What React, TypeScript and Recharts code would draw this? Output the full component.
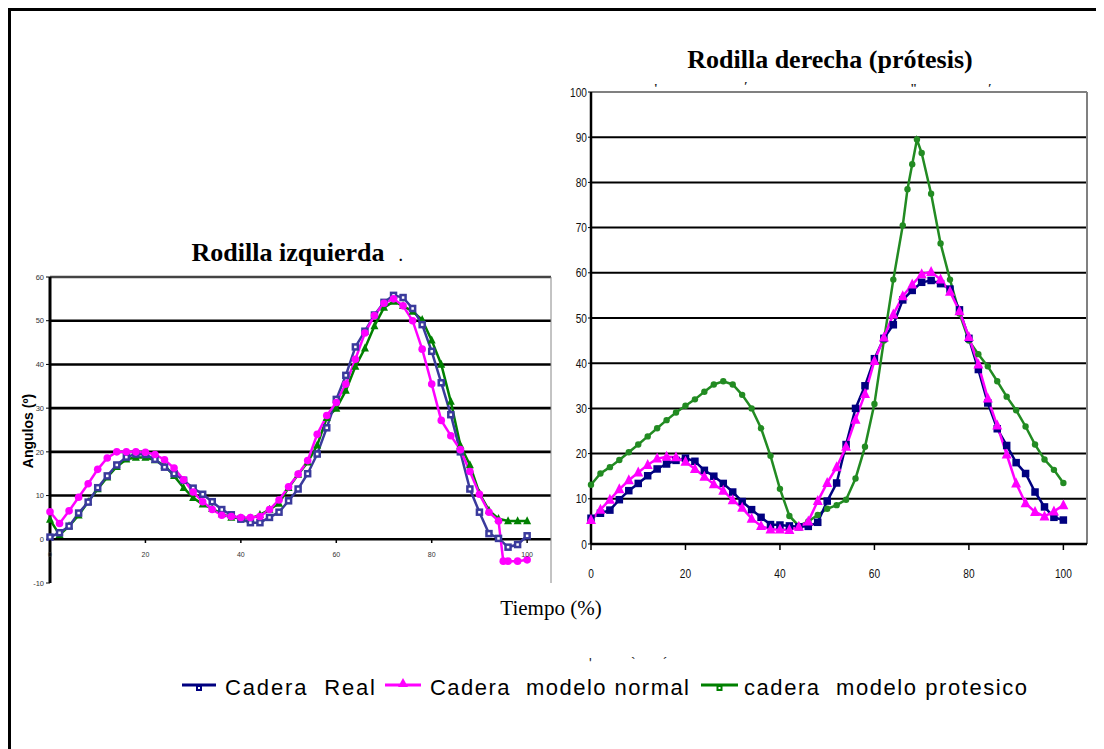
import React from "react";
import { LineChart, Line, XAxis, YAxis, ReferenceLine } from "recharts";

// tiempo (%) – muestras cada 2 %
const TIME = [0, 2, 4, 6, 8, 10, 12, 14, 16, 18, 20, 22, 24, 26, 28, 30, 32, 34, 36, 38, 40, 42, 44, 46, 48, 50, 52, 54, 56, 58, 60, 62, 64, 66, 68, 70, 72, 74, 76, 78, 80, 82, 84, 86, 88, 90, 92, 94, 96, 98, 100];

// Rodilla izquierda
const LEFT_REAL = [0.5, 1.5, 3.0, 6.0, 8.5, 11.8, 14.5, 17.0, 18.8, 19.5, 19.4, 18.3, 16.5, 15.0, 13.5, 11.7, 10.3, 8.6, 6.8, 5.6, 4.6, 3.8, 3.8, 5.0, 6.2, 8.8, 11.5, 15.0, 19.5, 25.5, 32.0, 37.5, 44.0, 47.6, 51.3, 54.2, 55.8, 55.3, 52.8, 49.1, 43.0, 35.8, 28.5, 20.0, 11.5, 6.2, 1.3, 0.2, -1.8, -1.2, 0.8];
const LEFT_NORMAL_TIME = [0, 2, 4, 6, 8, 10, 12, 14, 16, 18, 20, 22, 24, 26, 28, 30, 32, 34, 36, 38, 40, 42, 44, 46, 48, 50, 52, 54, 56, 58, 60, 62, 64, 66, 68, 70, 72, 74, 76, 78, 80, 82, 84, 86, 88, 90, 92, 94, 95, 96, 98, 100];
const LEFT_NORMAL = [6.3, 3.6, 6.5, 9.6, 12.7, 16.0, 18.6, 20.0, 20.0, 20.0, 19.9, 19.4, 18.2, 16.3, 13.6, 10.8, 8.6, 6.8, 5.5, 5.2, 5.0, 5.0, 5.2, 6.8, 9.0, 12.0, 14.9, 18.0, 24.0, 28.3, 31.3, 35.5, 41.2, 47.2, 51.2, 54.0, 55.0, 53.4, 50.0, 43.5, 35.5, 27.2, 23.7, 20.5, 15.5, 10.3, 6.2, 4.2, -5.0, -5.0, -5.0, -4.7];
const LEFT_PROT = [4.5, 1.0, 3.0, 5.5, 8.6, 11.5, 14.2, 16.6, 18.3, 18.7, 18.7, 18.1, 16.9, 14.5, 11.8, 9.5, 8.0, 7.0, 5.8, 5.0, 4.8, 4.8, 5.6, 6.8, 8.2, 11.8, 14.8, 17.6, 21.5, 27.8, 29.9, 34.0, 39.5, 43.7, 48.8, 53.0, 54.4, 53.4, 52.1, 50.2, 45.5, 40.0, 31.5, 21.5, 17.0, 10.5, 6.6, 4.7, 4.2, 4.2, 4.2];

// Rodilla derecha (prótesis)
const RIGHT_REAL = [5.7, 6.8, 7.5, 9.8, 11.8, 13.4, 15.1, 16.6, 17.7, 18.5, 19.0, 18.3, 16.3, 15.0, 13.4, 11.5, 9.4, 7.6, 5.9, 4.3, 4.2, 4.0, 3.8, 3.9, 4.8, 9.5, 13.5, 22.0, 30.0, 35.0, 41.0, 45.5, 48.5, 54.0, 56.1, 57.9, 58.3, 57.6, 56.4, 51.8, 45.5, 38.6, 31.2, 25.5, 21.8, 18.0, 15.6, 11.5, 8.2, 5.9, 5.3];
const RIGHT_NORMAL = [5.3, 7.6, 9.8, 12.1, 14.1, 15.8, 17.5, 18.9, 19.3, 19.2, 18.2, 16.6, 14.9, 13.2, 11.8, 9.7, 8.0, 5.6, 4.0, 3.2, 3.2, 3.1, 3.8, 5.0, 9.5, 13.5, 17.0, 21.5, 27.5, 33.2, 40.5, 45.7, 50.8, 54.8, 57.4, 59.7, 60.2, 58.5, 55.8, 51.5, 45.8, 39.7, 32.2, 26.2, 19.8, 13.4, 9.0, 7.1, 6.1, 7.2, 8.6];
const RIGHT_PROT_TIME = [0, 2, 4, 6, 8, 10, 12, 14, 16, 18, 20, 22, 24, 26, 28, 30, 32, 34, 36, 38, 40, 42, 44, 46, 48, 50, 52, 54, 56, 58, 60, 62, 64, 66, 67, 68, 69, 70, 72, 74, 76, 78, 80, 82, 84, 86, 88, 90, 92, 94, 96, 98, 100];
const RIGHT_PROT = [13.1, 15.6, 17.0, 18.6, 20.3, 22.0, 23.8, 25.6, 27.4, 29.1, 30.6, 32.0, 33.7, 35.3, 36.0, 35.3, 33.0, 30.0, 25.6, 19.5, 12.2, 6.2, 4.0, 5.0, 6.4, 7.8, 8.6, 9.8, 14.5, 21.5, 31.0, 45.0, 58.5, 70.5, 78.5, 84.0, 89.5, 86.5, 77.5, 66.5, 58.5, 51.0, 45.0, 42.0, 39.3, 36.0, 32.6, 29.6, 26.0, 22.0, 18.7, 16.4, 13.5];

const X_TICKS = [0, 20, 40, 60, 80, 100];
const LEFT_Y_TICKS = [-10, 0, 10, 20, 30, 40, 50, 60];
const LEFT_GRID = [0, 10, 20, 30, 40, 50];
const RIGHT_Y_TICKS = [0, 10, 20, 30, 40, 50, 60, 70, 80, 90, 100];
const RIGHT_GRID = [10, 20, 30, 40, 50, 60, 70, 80, 90];
const SERIES_NAMES = ["Cadera  Real", "Cadera  modelo normal", "cadera  modelo protesico"];

const rows = (t: number[], v: number[]) => t.map((x, i) => ({ t: x, v: v[i] }));

const SANS = "Arial, 'Liberation Sans', sans-serif";
const SERIF = "'Liberation Serif', 'Times New Roman', serif";

const squareDot = (stroke: string, fill: string, size: number, sw: number) => (p: any) => (
  <rect key={`s${p.index}`} x={p.cx - size / 2} y={p.cy - size / 2} width={size} height={size}
    fill={fill} stroke={stroke} strokeWidth={sw} />
);
const circleDot = (fill: string, r: number) => (p: any) => (
  <circle key={`c${p.index}`} cx={p.cx} cy={p.cy} r={r} fill={fill} />
);
const triDot = (fill: string, s: number) => (p: any) => (
  <path key={`t${p.index}`}
    d={`M${p.cx},${p.cy - s * 0.6} L${p.cx + s / 2},${p.cy + s * 0.4} L${p.cx - s / 2},${p.cy + s * 0.4} Z`}
    fill={fill} />
);

// etiquetas del eje X sobre la línea del cero
const LeftXTick = (p: any) => (
  <g>
    <line x1={p.x} x2={p.x} y1={p.y - 43} y2={p.y - 40} stroke="#000" strokeWidth={1.5} />
    <text x={p.x} y={p.y} dy={-26} textAnchor="middle" fontSize={7} fill="#333" fontFamily={SANS}>
      {p.payload.value}
    </text>
  </g>
);

// números estrechos del gráfico derecho
const NarrowXTick = (p: any) => (
  <text transform={`translate(${p.x},${p.y + 11}) scale(0.78,1)`} textAnchor="middle" fontSize={13}
    fill="#111" fontFamily={SANS}>
    {p.payload.value}
  </text>
);
const NarrowYTick = (p: any) => (
  <text transform={`translate(${p.x},${p.y + 4.5}) scale(0.78,1)`} textAnchor="end" fontSize={13}
    fill="#111" fontFamily={SANS}>
    {p.payload.value}
  </text>
);

function LeftChart() {
  return (
    <LineChart width={560} height={380} margin={{ top: 47, right: 17, bottom: 0, left: 0 }}>
      <XAxis type="number" dataKey="t" domain={[0, 105]} ticks={X_TICKS} axisLine={false}
        tickLine={false} tickSize={0} tickMargin={0} height={27} tick={<LeftXTick />} />
      <YAxis type="number" domain={[-10, 60]} ticks={LEFT_Y_TICKS} interval={0} width={42}
        axisLine={{ stroke: "#000", strokeWidth: 3 }} tickLine={{ stroke: "#000" }} tickSize={4}
        tickMargin={2} tick={{ fontSize: 7.5, fill: "#333", fontFamily: SANS }} />
      {LEFT_GRID.map((g) => (
        <ReferenceLine key={g} y={g} stroke="#000" strokeWidth={2.6} />
      ))}
      <ReferenceLine y={60} stroke="#444" strokeWidth={2.6} />
      <ReferenceLine x={105} stroke="#888" strokeWidth={1} />
      <Line data={rows(TIME, LEFT_PROT)} dataKey="v" stroke="#008000" strokeWidth={2.5}
        dot={triDot("#008000", 8)} activeDot={false} isAnimationActive={false} />
      <Line data={rows(TIME, LEFT_REAL)} dataKey="v" stroke="#3a3a9c" strokeWidth={2.5}
        dot={squareDot("#3a3a9c", "#fff", 5, 2.5)} activeDot={false} isAnimationActive={false} />
      <Line data={rows(LEFT_NORMAL_TIME, LEFT_NORMAL)} dataKey="v" stroke="#ff00ff" strokeWidth={2.5}
        dot={circleDot("#ff00ff", 3.8)} activeDot={false} isAnimationActive={false} />
    </LineChart>
  );
}

function RightChart() {
  return (
    <LineChart width={545} height={520} margin={{ top: 12, right: 13, bottom: 0, left: 0 }}>
      <XAxis type="number" dataKey="t" domain={[0, 105]} ticks={X_TICKS} height={56}
        axisLine={{ stroke: "#000", strokeWidth: 2.5 }} tickLine={{ stroke: "#000", strokeWidth: 1.5 }}
        tickSize={6} tickMargin={17} tick={<NarrowXTick />} />
      <YAxis type="number" domain={[0, 100]} ticks={RIGHT_Y_TICKS} interval={0} width={36}
        axisLine={{ stroke: "#000", strokeWidth: 2.5 }} tickLine={{ stroke: "#000" }} tickSize={3}
        tickMargin={1} tick={<NarrowYTick />} />
      {RIGHT_GRID.map((g) => (
        <ReferenceLine key={g} y={g} stroke="#000" strokeWidth={2} />
      ))}
      <ReferenceLine y={100} stroke="#808080" strokeWidth={2} />
      <ReferenceLine x={105} stroke="#808080" strokeWidth={2} />
      <Line data={rows(RIGHT_PROT_TIME, RIGHT_PROT)} dataKey="v" stroke="#228b22" strokeWidth={2.5}
        dot={circleDot("#228b22", 3.2)} activeDot={false} isAnimationActive={false} />
      <Line data={rows(TIME, RIGHT_REAL)} dataKey="v" stroke="#000080" strokeWidth={2.5}
        dot={squareDot("#000080", "#000080", 6, 1.5)} activeDot={false} isAnimationActive={false} />
      <Line data={rows(TIME, RIGHT_NORMAL)} dataKey="v" stroke="#ff00ff" strokeWidth={2.5}
        dot={triDot("#ff00ff", 10)} activeDot={false} isAnimationActive={false} />
    </LineChart>
  );
}

function Overlay() {
  return (
    <svg width={1096} height={741} style={{ position: "absolute", left: 0, top: 0, pointerEvents: "none" }}>
      <text x={280} y={253} textAnchor="middle" fontFamily={SERIF} fontWeight="bold" fontSize={26}>
        Rodilla izquierda
      </text>
      <text x={391} y={253} fontFamily={SERIF} fontWeight="bold" fontSize={14}>.</text>
      <text x={822} y={60} textAnchor="middle" fontFamily={SERIF} fontWeight="bold" fontSize={26}>
        Rodilla derecha (prótesis)
      </text>
      <g fontFamily={SERIF} fontWeight="bold" fontSize={13} fill="#222">
        <text x={646} y={84}>'</text>
        <text x={736} y={82}>ʹ</text>
        <text x={902} y={84}>"</text>
        <text x={980} y={84}>ʹ</text>
      </g>
      <text x={19.5} y={423} transform="rotate(-90 19.5 423)" textAnchor="middle" dominantBaseline="central"
        fontFamily={SANS} fontWeight="bold" fontSize={14}>
        Angulos (º)
      </text>
      <text x={543} y={607} textAnchor="middle" fontFamily={SERIF} fontSize={21}>Tiempo (%)</text>
      <g fontFamily={SANS} fontSize={14} fill="#222">
        <text x={581} y={660}>'</text>
        <text x={623} y={660}>`</text>
        <text x={655} y={660}>´</text>
      </g>
      {/* leyenda */}
      <line x1={174} x2={208} y1={677} y2={677} stroke="#000080" strokeWidth={3} />
      <rect x={188} y={677} width={6} height={6} fill="#000080" />
      <rect x={190} y={679} width={2} height={2} fill="#fff" />
      <text x={217} y={687} textLength={150} fontFamily={SANS} fontSize={22} style={{ whiteSpace: "pre" }}>
        {SERIES_NAMES[0]}
      </text>
      <line x1={377} x2={413} y1={677} y2={677} stroke="#ff00ff" strokeWidth={3} />
      <path d="M395,670 L400,679 L390,679 Z" fill="#ff00ff" />
      <text x={422} y={687} textLength={259} fontFamily={SANS} fontSize={22} style={{ whiteSpace: "pre" }}>
        {SERIES_NAMES[1]}
      </text>
      <line x1={693} x2={730} y1={677} y2={677} stroke="#008000" strokeWidth={3} />
      <rect x={708.5} y={677} width={6} height={6} fill="#008000" />
      <rect x={710.5} y={679} width={2} height={2} fill="#fff" />
      <text x={736} y={687} textLength={283} fontFamily={SANS} fontSize={22} style={{ whiteSpace: "pre" }}>
        {SERIES_NAMES[2]}
      </text>
    </svg>
  );
}

export default function App() {
  return (
    <div style={{ position: "relative", width: 1096, height: 741, overflow: "hidden", background: "#fff" }}>
      <div style={{ position: "absolute", left: 0, top: 0, width: 1100, height: 760, borderTop: "3px solid #000", borderLeft: "3px solid #000", boxSizing: "border-box" }} />
      <div style={{ position: "absolute", left: 0, top: 222 }}>
        <LeftChart />
      </div>
      <div style={{ position: "absolute", left: 547, top: 72 }}>
        <RightChart />
      </div>
      <Overlay />
    </div>
  );
}
